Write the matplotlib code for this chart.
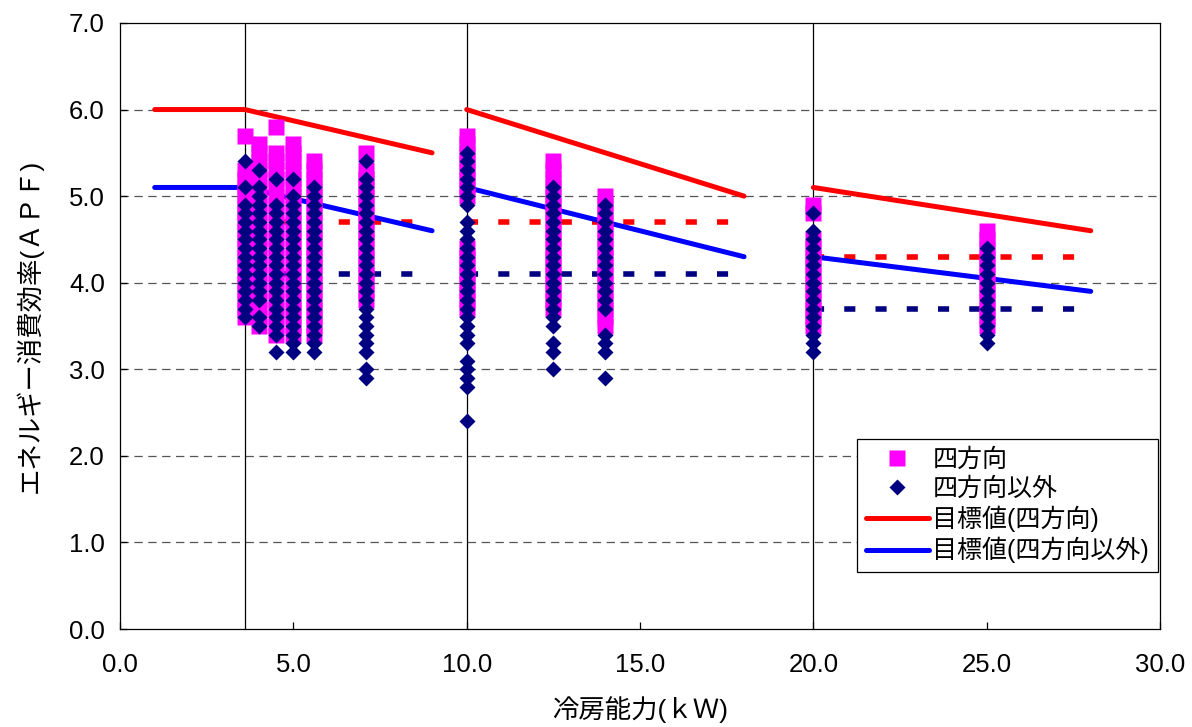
import matplotlib
matplotlib.use("Agg")
import matplotlib.pyplot as plt
from matplotlib.lines import Line2D

plt.rcParams["font.family"] = ["Liberation Sans", "Noto Sans CJK JP", "DejaVu Sans"]
plt.rcParams["lines.scale_dashes"] = False

# --- data ---
# cooling capacity columns (kW)
capacity = [3.6, 4.0, 4.5, 5.0, 5.6, 7.1, 10.0, 12.5, 14.0, 20.0, 25.0]

# 四方向 (square markers), APF per column
sq_36 = [5.7, 5.3, 5.2, 5.1, 5.0, 4.9, 4.8, 4.7, 4.6, 4.5, 4.4, 4.3, 4.2, 4.1, 4.0, 3.9, 3.8, 3.7, 3.6]
sq_40 = [5.6, 5.5, 5.4, 5.3, 5.2, 5.1, 5.0, 4.9, 4.8, 4.7, 4.6, 4.5, 4.4, 4.3, 4.2, 4.1, 4.0, 3.9, 3.8, 3.7, 3.6, 3.5]
sq_45 = [5.8, 5.5, 5.4, 5.3, 5.2, 5.1, 5.0, 4.9, 4.8, 4.7, 4.6, 4.5, 4.4, 4.3, 4.2, 4.1, 4.0, 3.9, 3.8, 3.7, 3.6, 3.5, 3.4]
sq_50 = [5.6, 5.5, 5.4, 5.3, 5.2, 5.1, 5.0, 4.9, 4.8, 4.7, 4.6, 4.5, 4.4, 4.3, 4.2, 4.1, 4.0, 3.9, 3.8, 3.7, 3.6, 3.5, 3.4]
sq_56 = [5.4, 5.3, 5.2, 5.1, 5.0, 4.9, 4.8, 4.7, 4.6, 4.5, 4.4, 4.3, 4.2, 4.1, 4.0, 3.9, 3.8, 3.7, 3.6, 3.5, 3.4]
sq_71 = [5.5, 5.3, 5.2, 5.1, 5.0, 4.9, 4.8, 4.7, 4.6, 4.5, 4.4, 4.3, 4.2, 4.1, 4.0, 3.9, 3.8]
sq_100 = [5.7, 5.6, 5.5, 5.4, 5.3, 5.2, 5.1, 5.0, 4.4, 4.3, 4.2, 4.1, 4.0, 3.9, 3.8, 3.7]
sq_125 = [5.4, 5.3, 5.2, 5.1, 5.0, 4.9, 4.8, 4.7, 4.6, 4.5, 4.4, 4.3, 4.2, 4.1, 4.0, 3.9, 3.8, 3.7]
sq_140 = [5.0, 4.9, 4.8, 4.7, 4.6, 4.5, 4.4, 4.3, 4.2, 4.1, 4.0, 3.9, 3.8, 3.7, 3.6, 3.5]
sq_200 = [4.9, 4.8, 4.5, 4.4, 4.3, 4.2, 4.1, 4.0, 3.9, 3.8, 3.7, 3.6, 3.5]
sq_250 = [4.6, 4.5, 4.4, 4.3, 4.2, 4.1, 4.0, 3.9, 3.8, 3.7, 3.6, 3.5]

# 四方向以外 (diamond markers)
di_36 = [5.4, 5.1, 4.9, 4.8, 4.7, 4.6, 4.5, 4.4, 4.3, 4.2, 4.1, 4.0, 3.9, 3.8, 3.7, 3.6]
di_40 = [5.3, 5.1, 5.0, 4.9, 4.8, 4.7, 4.6, 4.5, 4.4, 4.3, 4.2, 4.1, 4.0, 3.9, 3.8, 3.6, 3.5]
di_45 = [5.2, 4.9, 4.8, 4.7, 4.6, 4.5, 4.4, 4.3, 4.2, 4.1, 4.0, 3.9, 3.8, 3.7, 3.6, 3.5, 3.4, 3.2]
di_50 = [5.2, 5.0, 4.9, 4.8, 4.7, 4.6, 4.5, 4.4, 4.3, 4.2, 4.1, 4.0, 3.9, 3.8, 3.7, 3.6, 3.5, 3.4, 3.3, 3.2]
di_56 = [5.1, 5.0, 4.9, 4.8, 4.7, 4.6, 4.5, 4.4, 4.3, 4.2, 4.1, 4.0, 3.9, 3.8, 3.7, 3.6, 3.5, 3.4, 3.3, 3.2]
di_71 = [5.4, 5.2, 5.1, 5.0, 4.9, 4.8, 4.7, 4.6, 4.5, 4.4, 4.3, 4.2, 4.1, 4.0, 3.9, 3.8, 3.7, 3.6, 3.5, 3.4, 3.3, 3.2, 3.0, 2.9]
di_100 = [5.5, 5.4, 5.3, 5.2, 5.1, 5.0, 4.9, 4.7, 4.6, 4.5, 4.4, 4.3, 4.2, 4.1, 4.0, 3.9, 3.8, 3.7, 3.6, 3.5, 3.4, 3.3,
          3.1, 3.0, 2.9, 2.8, 2.4]
di_125 = [5.1, 5.0, 4.9, 4.8, 4.7, 4.6, 4.5, 4.4, 4.3, 4.2, 4.1, 4.0, 3.9, 3.8, 3.7, 3.6, 3.5, 3.3, 3.2, 3.0]
di_140 = [4.9, 4.8, 4.7, 4.6, 4.5, 4.4, 4.3, 4.2, 4.1, 4.0, 3.9, 3.8, 3.7, 3.4, 3.3, 3.2, 2.9]
di_200 = [4.8, 4.6, 4.5, 4.4, 4.3, 4.2, 4.1, 4.0, 3.9, 3.8, 3.7, 3.6, 3.5, 3.4, 3.3, 3.2]
di_250 = [4.4, 4.3, 4.2, 4.1, 4.0, 3.9, 3.8, 3.7, 3.6, 3.5, 3.4, 3.3]

squares = [sq_36, sq_40, sq_45, sq_50, sq_56, sq_71, sq_100, sq_125, sq_140, sq_200, sq_250]
diamonds = [di_36, di_40, di_45, di_50, di_56, di_71, di_100, di_125, di_140, di_200, di_250]

# target values (目標値), one segment per capacity class
tgt_x = [[1.0, 3.6, 9.0], [10.0, 18.0], [20.0, 28.0]]
tgt_4way = [[6.0, 6.0, 5.5], [6.0, 5.0], [5.1, 4.6]]
tgt_other = [[5.1, 5.1, 4.6], [5.1, 4.3], [4.3, 3.9]]
# older standard values (dashed)
std_x = [[3.6, 9.0], [10.0, 18.0], [20.0, 28.0]]
std_4way = [[4.7, 4.7], [4.7, 4.7], [4.3, 4.3]]
std_other = [[4.1, 4.1], [4.1, 4.1], [3.7, 3.7]]

class_bounds = [3.6, 10.0, 20.0]

MAGENTA = "#FF00FF"
NAVY = "#000080"
RED = "#FF0000"
BLUE = "#0000FF"

fig = plt.figure(figsize=(11.92, 7.27), dpi=100)
ax = fig.add_axes([0.1007, 0.1348, 0.8725, 0.8336])

for yv in range(1, 7):
    ax.axhline(yv, color="#555555", lw=0.9, ls=(0, (6, 4)), zorder=1)
for xb in class_bounds:
    ax.axvline(xb, color="black", lw=0.9, zorder=1)

for xs, ys in zip(std_x, std_4way):
    ax.plot(xs, ys, color=RED, lw=4, ls=(0, (8, 14.5)), dash_capstyle="butt", zorder=2)
for xs, ys in zip(std_x, std_other):
    ax.plot(xs, ys, color=NAVY, lw=4, ls=(0, (8, 14.5)), dash_capstyle="butt", zorder=2)
for xs, ys in zip(tgt_x, tgt_4way):
    ax.plot(xs, ys, color=RED, lw=3.6, solid_capstyle="round", zorder=2)
for xs, ys in zip(tgt_x, tgt_other):
    ax.plot(xs, ys, color=BLUE, lw=3.6, solid_capstyle="round", zorder=2)

for cap, vals in zip(capacity, squares):
    ax.plot([cap] * len(vals), vals, ls="none", marker="s", ms=11, mfc=MAGENTA, mec="none", zorder=3)
for cap, vals in zip(capacity, diamonds):
    ax.plot([cap] * len(vals), vals, ls="none", marker="D", ms=7.8, mfc=NAVY, mec="none", zorder=4)

ax.set_xlim(0, 30)
ax.set_ylim(0, 7)
ax.set_xticks(range(0, 31, 5))
ax.set_yticks(range(0, 8))
ax.set_xticklabels([f"{v:.1f}" for v in range(0, 31, 5)])
ax.set_yticklabels([f"{v:.1f}" for v in range(0, 8)])
ax.tick_params(direction="in", length=5, width=0.9, labelsize=18.5)
ax.tick_params(axis="x", pad=17)
ax.tick_params(axis="y", pad=11)
for sp in ax.spines.values():
    sp.set_linewidth(0.9)

ax.set_xlabel("冷房能力(ｋＷ)", fontsize=19, labelpad=14)
ax.set_ylabel("エネルギー消費効率(ＡＰＦ)", fontsize=19, labelpad=19)

handles = [
    Line2D([], [], ls="none", marker="s", ms=11, mfc=MAGENTA, mec="none"),
    Line2D([], [], ls="none", marker="D", ms=7.8, mfc=NAVY, mec="none"),
    Line2D([], [], color=RED, lw=3.6, solid_capstyle="round"),
    Line2D([], [], color=BLUE, lw=3.6, solid_capstyle="round"),
]
labels = ["四方向", "四方向以外", "目標値(四方向)", "目標値(四方向以外)"]
leg = ax.legend(handles, labels, loc="lower right", bbox_to_anchor=(0.998, 0.094),
                borderaxespad=0, fontsize=18, handlelength=2.5, handletextpad=0.15,
                labelspacing=0.2, borderpad=0.35, fancybox=False, framealpha=1)
leg.get_frame().set_edgecolor("black")
leg.get_frame().set_linewidth(0.9)

fig.savefig("out.png", dpi=100)
